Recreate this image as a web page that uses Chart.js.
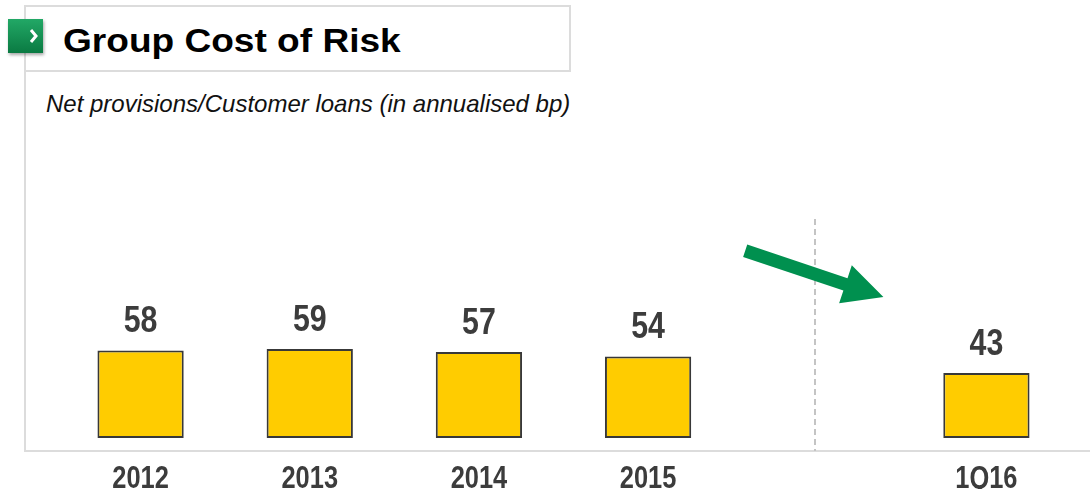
<!DOCTYPE html>
<html>
<head>
<meta charset="utf-8">
<script src="https://cdn.jsdelivr.net/npm/chart.js@4.4.0/dist/chart.umd.min.js"></script>
<style>
  html, body { margin: 0; padding: 0; background: #fff; }
  #wrap { position: relative; width: 1090px; height: 489px; overflow: hidden; }
  #titleBox { position: absolute; left: 24px; top: 5px; width: 547px; height: 67px; border: 2px solid #dcdcdc; box-sizing: border-box; }
  #leftLine { position: absolute; left: 24px; top: 71px; width: 2px; height: 381px; background: #dcdcdc; }
  #icon { position: absolute; left: 8px; top: 19px; width: 35px; height: 34px; background: linear-gradient(#22a866, #0a7a42); box-shadow: 1px 2px 3px rgba(0,0,0,0.35); }
  #icon svg { position: absolute; left: 0; top: 0; }
  #title { position: absolute; left: 63px; top: 23px; font: bold 34px "Liberation Sans", Arial, sans-serif; line-height: 1; color: #000; white-space: nowrap; transform: scaleX(1.09); transform-origin: left top; }
  #subtitle { position: absolute; left: 46px; top: 92px; font: italic 24px "Liberation Sans", Arial, sans-serif; line-height: 1; color: #111; white-space: nowrap; }
  #chart { position: absolute; left: 0; top: 0; }
</style>
</head>
<body>
<div id="wrap">
  <div id="titleBox"></div>
  <div id="leftLine"></div>
  <div id="icon"><svg width="35" height="34"><polyline points="23,11 28,17 23,23" fill="none" stroke="#fff" stroke-width="3"/></svg></div>
  <div id="title">Group Cost of Risk</div>
  <div id="subtitle">Net provisions/Customer loans (in annualised bp)</div>
  <canvas id="chart" width="1090" height="489"></canvas>
</div>
<script>
  var CATEGORIES = ['2012', '2013', '2014', '2015', '', '1Q16'];
  var VALUES = [58, 59, 57, 54, null, 43];
  var Y_MIN = -8.6;
  var Y_MAX = 200;

  var FONT = '"Liberation Sans", Arial, sans-serif';
  var TEXT_COLOR = '#3c3c3c';
  var NARROW = 0.82; // horizontal squeeze to mimic Arial Narrow

  function narrowText(ctx, text, x, y, font) {
    ctx.save();
    ctx.font = font;
    ctx.textAlign = 'center';
    ctx.textBaseline = 'alphabetic';
    ctx.translate(x, y);
    ctx.scale(NARROW, 1);
    ctx.fillText(text, 0, 0);
    ctx.restore();
  }

  var decorations = {
    id: 'decorations',
    afterDraw: function (chart) {
      var ctx = chart.ctx;
      var x = chart.scales.x;
      var y = chart.scales.y;
      var bottom = chart.chartArea.bottom;

      // axis line
      ctx.save();
      ctx.strokeStyle = '#dcdcdc';
      ctx.lineWidth = 2;
      ctx.beginPath();
      ctx.moveTo(24, bottom);
      ctx.lineTo(chart.width, bottom);
      ctx.stroke();

      // dashed divider in the empty slot
      var dx = Math.round(x.getPixelForValue(4)) - 2;
      ctx.strokeStyle = '#c4c4c4';
      ctx.setLineDash([6, 4]);
      ctx.beginPath();
      ctx.moveTo(dx, y.getPixelForValue(145));
      ctx.lineTo(dx, bottom);
      ctx.stroke();
      ctx.setLineDash([]);

      // green trend arrow
      var x0 = x.getPixelForValue(3.574), y0 = y.getPixelForValue(124);
      var x1 = x.getPixelForValue(4.391), y1 = y.getPixelForValue(93.4);
      var a = Math.atan2(y1 - y0, x1 - x0);
      var headLen = 40, headW = 20, shaftW = 6.5;
      var cos = Math.cos(a), sin = Math.sin(a);
      var bx = x1 - headLen * cos, by = y1 - headLen * sin;
      ctx.fillStyle = '#00904f';
      ctx.beginPath();
      ctx.moveTo(x0 + shaftW * sin, y0 - shaftW * cos);
      ctx.lineTo(bx + shaftW * sin, by - shaftW * cos);
      ctx.lineTo(bx + headW * sin, by - headW * cos);
      ctx.lineTo(x1, y1);
      ctx.lineTo(bx - headW * sin, by + headW * cos);
      ctx.lineTo(bx - shaftW * sin, by + shaftW * cos);
      ctx.lineTo(x0 - shaftW * sin, y0 + shaftW * cos);
      ctx.closePath();
      ctx.fill();
      ctx.restore();

      // category labels under the axis
      ctx.save();
      ctx.fillStyle = TEXT_COLOR;
      x.getLabels().forEach(function (label, i) {
        if (!label) return;
        narrowText(ctx, label, x.getPixelForValue(i), 488, 'bold 31px ' + FONT);
      });
      ctx.restore();
    },
    afterDatasetsDraw: function (chart) {
      var ctx = chart.ctx;
      var meta = chart.getDatasetMeta(0);
      ctx.save();
      ctx.fillStyle = TEXT_COLOR;
      meta.data.forEach(function (bar, i) {
        if (VALUES[i] == null) return;
        narrowText(ctx, String(VALUES[i]), bar.x, bar.y - 18, 'bold 37px ' + FONT);
      });
      ctx.restore();
    }
  };

  new Chart(document.getElementById('chart'), {
    type: 'bar',
    data: {
      labels: CATEGORIES,
      datasets: [{
        data: VALUES,
        backgroundColor: '#ffcc00',
        borderColor: '#383838',
        borderWidth: 2,
        borderSkipped: false,
        barPercentage: 0.51,
        categoryPercentage: 1
      }]
    },
    options: {
      responsive: false,
      devicePixelRatio: 1,
      animation: false,
      layout: { padding: { left: 56, right: 19, top: 136, bottom: 38 } },
      plugins: { legend: { display: false }, tooltip: { enabled: false } },
      scales: {
        x: {
          grid: { display: false, drawTicks: false },
          border: { display: false },
          ticks: { display: false }
        },
        y: { display: false, min: Y_MIN, max: Y_MAX }
      }
    },
    plugins: [decorations]
  });
</script>
</body>
</html>
